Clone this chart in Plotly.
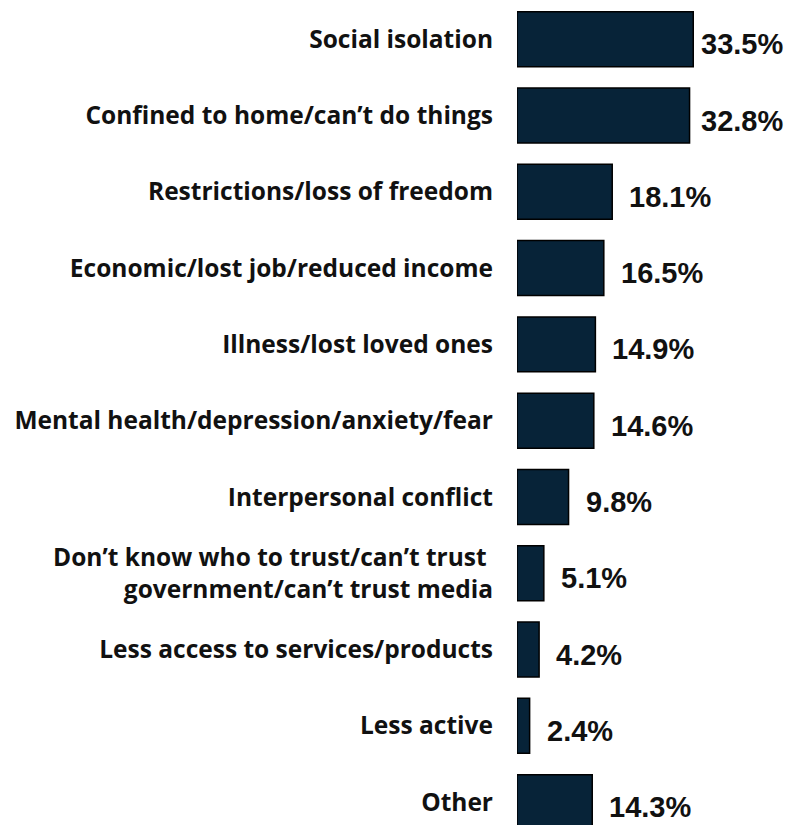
import plotly.graph_objects as go

# Survey responses: biggest challenges reported
categories = [
    "Social isolation",
    "Confined to home/can\u2019t do things",
    "Restrictions/loss of freedom",
    "Economic/lost job/reduced income",
    "Illness/lost loved ones",
    "Mental health/depression/anxiety/fear",
    "Interpersonal conflict",
    "Don\u2019t know who to trust/can\u2019t trust <br>government/can\u2019t trust media",
    "Less access to services/products",
    "Less active",
    "Other",
]
percentages = [33.5, 32.8, 18.1, 16.5, 14.9, 14.6, 9.8, 5.1, 4.2, 2.4, 14.3]
value_labels = [f"{v:.1f}%" for v in percentages]

W, H = 799, 825
LEFT = 517
X_MAX = 53.6
BAR_COLOR = "#072338"
px_per_unit = (W - LEFT) / X_MAX

fig = go.Figure(
    go.Bar(
        x=percentages,
        y=categories,
        orientation="h",
        marker=dict(color=BAR_COLOR, line=dict(color="#000000", width=1.5)),
        hoverinfo="skip",
    )
)

# value labels to the right of each bar, kept inside the page width
label_w = 97
for cat, v, txt in zip(categories, percentages, value_labels):
    end_px = LEFT + v * px_per_unit
    gap = 15
    if end_px + gap + label_w > W - 3:
        gap = max(4, W - 3 - label_w - end_px)
    fig.add_annotation(
        x=v, y=cat, text=txt, showarrow=False,
        xanchor="left", yanchor="middle", xshift=gap, yshift=-5,
        font=dict(family="Liberation Sans, Arial, sans-serif", size=29,
                  color="#111111", weight="bold"),
    )

fig.update_layout(
    width=W, height=H,
    margin=dict(l=LEFT, r=0, t=0, b=0),
    paper_bgcolor="white", plot_bgcolor="white",
    bargap=0.28,
    showlegend=False,
    xaxis=dict(range=[0, X_MAX], visible=False, fixedrange=True),
    yaxis=dict(
        type="category",
        range=[10.30, -0.514],
        showgrid=False, zeroline=False, showline=False,
        ticks="", ticklabelstandoff=23,
        tickfont=dict(family="Open Sans, sans-serif", size=24.5,
                      color="#111111", weight="bold"),
        automargin=False,
    ),
)

fig.write_html("out.html")
